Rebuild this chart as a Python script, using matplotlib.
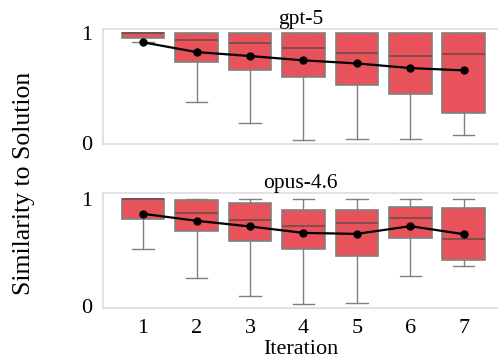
import matplotlib
matplotlib.use("Agg")
import matplotlib.pyplot as plt

plt.rcParams['font.family'] = ['Liberation Serif', 'DejaVu Serif']

iterations = [1, 2, 3, 4, 5, 6, 7]

# gpt-5 box stats
gpt_whislo = [0.915, 0.373, 0.185, 0.033, 0.039, 0.042, 0.073]
gpt_q1 = [0.955, 0.739, 0.664, 0.600, 0.530, 0.448, 0.273]
gpt_med = [1.000, 0.936, 0.906, 0.864, 0.818, 0.794, 0.812]
gpt_q3 = [1.000, 1.000, 1.000, 1.000, 1.000, 1.000, 1.000]
gpt_whishi = [1.000, 1.000, 1.000, 1.000, 1.000, 1.000, 1.000]
gpt_mean = [0.915, 0.827, 0.791, 0.752, 0.724, 0.682, 0.661]

# opus-4.6 box stats
opus_whislo = [0.534, 0.260, 0.094, 0.022, 0.028, 0.284, 0.378]
opus_q1 = [0.812, 0.700, 0.612, 0.537, 0.466, 0.634, 0.431]
opus_med = [1.000, 0.872, 0.800, 0.747, 0.778, 0.819, 0.625]
opus_q3 = [1.000, 0.994, 0.962, 0.894, 0.894, 0.922, 0.916]
opus_whishi = [1.000, 1.000, 1.000, 1.000, 1.000, 1.000, 1.000]
opus_mean = [0.862, 0.797, 0.744, 0.684, 0.675, 0.747, 0.672]

box_color = '#e8525a'
line_color = '#808080'


def make_stats(lo, q1, med, q3, hi):
    return [dict(whislo=a, q1=b, med=c, q3=d, whishi=e, fliers=[])
            for a, b, c, d, e in zip(lo, q1, med, q3, hi)]


def draw_panel(ax, title, stats, means, ylim):
    ax.bxp(stats, positions=iterations, widths=0.8, patch_artist=True,
           showfliers=False,
           boxprops=dict(facecolor=box_color, edgecolor=line_color, linewidth=1.2),
           medianprops=dict(color='#744a4a', linewidth=1.2),
           whiskerprops=dict(color=line_color, linewidth=1.0),
           capprops=dict(color=line_color, linewidth=1.0))
    ax.plot(iterations, means, color='black', marker='o', markersize=5, linewidth=1.6, zorder=5)
    ax.set_title(title, fontsize=15.5, pad=3)
    ax.set_xlim(0.25, 7.64)
    ax.set_ylim(*ylim)
    ax.set_yticks([0, 1])
    ax.set_yticklabels(['0', '1'])
    ax.tick_params(axis='both', length=0, labelsize=16, pad=8)
    for side in ['top', 'left', 'bottom']:
        ax.spines[side].set_color('#dddddd')
        ax.spines[side].set_linewidth(1.2)
    ax.spines['right'].set_visible(False)


fig = plt.figure(figsize=(4.98, 3.56), dpi=100)
ax1 = fig.add_axes([103 / 498, 1 - 144 / 356, 395 / 498, 115 / 356])
ax2 = fig.add_axes([103 / 498, 1 - 308 / 356, 395 / 498, 115 / 356])

draw_panel(ax1, 'gpt-5', make_stats(gpt_whislo, gpt_q1, gpt_med, gpt_q3, gpt_whishi),
           gpt_mean, (-0.006, 1.036))
draw_panel(ax2, 'opus-4.6', make_stats(opus_whislo, opus_q1, opus_med, opus_q3, opus_whishi),
           opus_mean, (-0.016, 1.056))

ax1.set_xticks([])
ax2.set_xticks(iterations)
ax2.set_xticklabels([str(i) for i in iterations])
ax2.set_xlabel('Iteration', fontsize=16, labelpad=1)

fig.text(0.048, 0.485, 'Similarity to Solution', rotation=90, fontsize=18.5,
         ha='center', va='center')

fig.savefig('out.png', dpi=100)
